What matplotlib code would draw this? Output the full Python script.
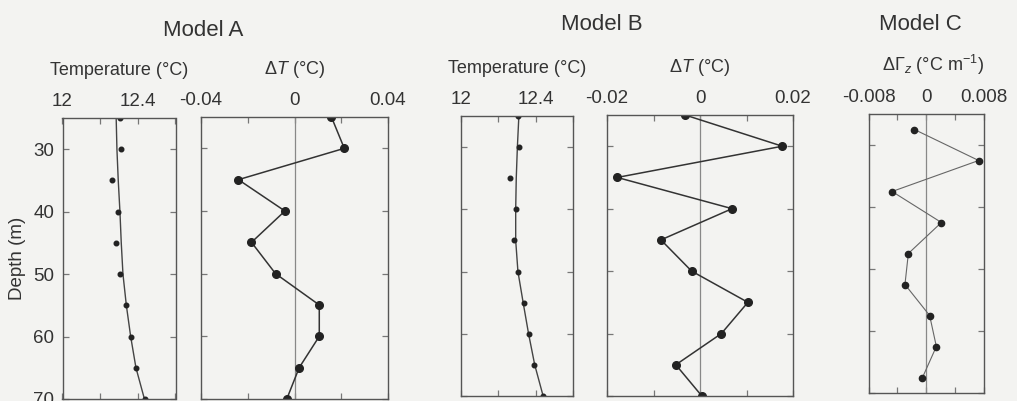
import numpy as np
import matplotlib.pyplot as plt

plt.rcParams['font.family'] = ['Liberation Sans', 'DejaVu Sans']
plt.rcParams['mathtext.fontset'] = 'custom'
plt.rcParams['mathtext.rm'] = 'Liberation Sans'
plt.rcParams['mathtext.it'] = 'Liberation Sans:italic'

#%% data
depth = [25, 30, 35, 40, 45, 50, 55, 60, 65, 70]
depth_mid = [27.5, 32.5, 37.5, 42.5, 47.5, 52.5, 57.5, 62.5, 67.5]

temp_a_obs = [12.303, 12.313, 12.265, 12.297, 12.283, 12.307, 12.339, 12.366, 12.392, 12.437]
temp_a_fit = [12.285, 12.289, 12.296, 12.305, 12.312, 12.321, 12.339, 12.362, 12.390, 12.435]
dT_a = [0.0158, 0.0213, -0.0240, -0.0041, -0.0184, -0.0081, 0.0106, 0.0106, 0.0020, -0.0033]

temp_b_obs = [12.304, 12.310, 12.263, 12.295, 12.283, 12.306, 12.340, 12.364, 12.392, 12.437]
temp_b_fit = [12.310, 12.302, 12.296, 12.293, 12.293, 12.305, 12.333, 12.362, 12.395, 12.440]
dT_b = [-0.0032, 0.0177, -0.0178, 0.0069, -0.0084, -0.0018, 0.0103, 0.0046, -0.0052, 0.0004]

dG_c = [-0.00164, 0.00726, -0.00473, 0.0021, -0.00248, -0.00295, 0.00047, 0.0014, -0.00052]

bg = '#f3f3f1'
W, H = 1017, 401
fig = plt.figure(figsize=(W/100, H/100), dpi=100, facecolor=bg)


def panel(l, r, t, b):
    ax = fig.add_axes([l/W, 1 - b/H, (r - l)/W, (b - t)/H], facecolor=bg)
    for s in ax.spines.values():
        s.set_color('#555555')
        s.set_linewidth(1.0)
    ax.tick_params(direction='in', top=True, bottom=True, left=True, right=True,
                   labeltop=True, labelbottom=False, length=4, width=0.9,
                   color='#777777', labelsize=13.5, labelcolor='#333333', pad=6)
    ax.set_ylim(70, 25)
    ax.set_yticks([30, 40, 50, 60, 70])
    ax.set_yticklabels([])
    ax.xaxis.set_label_position('top')
    return ax


def xaxis(ax, lim, ticks, labels, title):
    ax.set_xlim(lim)
    ax.set_xticks(ticks)
    ax.set_xticklabels(labels)
    ax.set_xlabel(title, fontsize=13, color='#333333', labelpad=13)


#%% Model A
ax1 = panel(62.5, 175.5, 118, 399)
ax1.plot(temp_a_fit, depth, '-', color='#444444', lw=1.0)
ax1.plot(temp_a_obs, depth, 'o', color='#222222', ms=3.3)
xaxis(ax1, (12, 12.6), [12, 12.2, 12.4, 12.6], ['12', '', '12.4', ''], 'Temperature (°C)')
ax1.set_yticklabels(['30', '40', '50', '60', '70'])
ax1.set_ylabel('Depth (m)', fontsize=13.5, color='#333333', labelpad=5)

ax2 = panel(201, 388, 117, 399)
ax2.axvline(0, color='#888888', lw=0.9)
ax2.plot(dT_a, depth, '-o', color='#333333', lw=1.1, ms=5.5, mfc='#222222', mec='#222222')
xaxis(ax2, (-0.04, 0.04), [-0.04, -0.02, 0, 0.02, 0.04], ['-0.04', '', '0', '', '0.04'],
      r'$\Delta\mathit{T}$ (°C)')

#%% Model B
ax3 = panel(461, 573, 116, 396)
ax3.plot(temp_b_fit, depth, '-', color='#444444', lw=1.0)
ax3.plot(temp_b_obs, depth, 'o', color='#222222', ms=3.3)
xaxis(ax3, (12, 12.6), [12, 12.2, 12.4, 12.6], ['12', '', '12.4', ''], 'Temperature (°C)')

ax4 = panel(607, 793, 115, 396)
ax4.axvline(0, color='#888888', lw=0.9)
ax4.plot(dT_b, depth, '-o', color='#333333', lw=1.1, ms=5.5, mfc='#222222', mec='#222222')
xaxis(ax4, (-0.02, 0.02), [-0.02, -0.01, 0, 0.01, 0.02], ['-0.02', '', '0', '', '0.02'],
      r'$\Delta\mathit{T}$ (°C)')

#%% Model C
ax5 = panel(868.5, 984, 114, 393)
ax5.axvline(0, color='#888888', lw=0.9)
ax5.plot(dG_c, depth_mid, '-o', color='#666666', lw=0.8, ms=4.5, mfc='#222222', mec='#222222')
xaxis(ax5, (-0.008, 0.008), [-0.008, -0.004, 0, 0.004, 0.008], ['-0.008', '', '0', '', '0.008'],
      r'$\Delta\Gamma_z$ (°C m$^{-1}$)')
ax5.xaxis.label.set_x(0.56)

fig.text(203/W, 1 - 30/H, 'Model A', fontsize=16, color='#333333', ha='center', va='center')
fig.text(602/W, 1 - 24/H, 'Model B', fontsize=16, color='#333333', ha='center', va='center')
fig.text(920/W, 1 - 24/H, 'Model C', fontsize=16, color='#333333', ha='center', va='center')

plt.savefig('out.png', dpi=100, facecolor=bg)
